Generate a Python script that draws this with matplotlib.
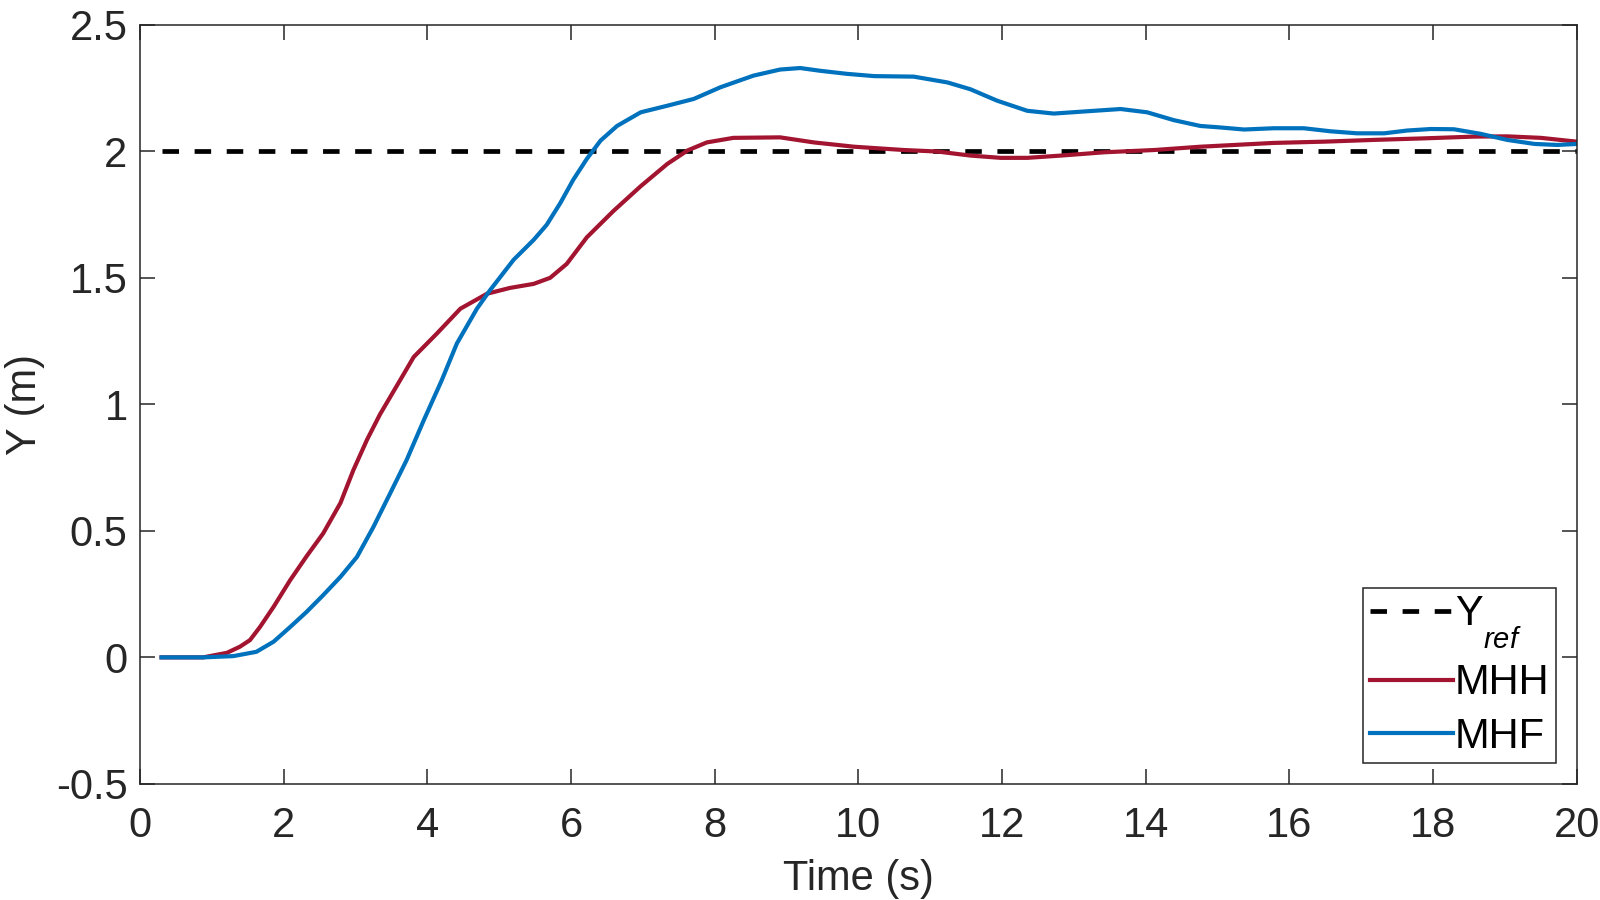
import matplotlib
matplotlib.use("Agg")
import matplotlib.pyplot as plt
import matplotlib._mathtext as mathtext_internal

plt.rcParams["font.family"] = ["Liberation Sans", "DejaVu Sans"]
plt.rcParams["mathtext.fontset"] = "custom"
plt.rcParams["mathtext.rm"] = "Liberation Sans"
plt.rcParams["mathtext.it"] = "Liberation Sans:italic"
# MATLAB drops the subscript lower than mathtext does
mathtext_internal.FontConstantsBase.sub1 = 1.0

# reference level
y_ref = 2.0
t_ref = [0.3, 20.0]

# MHH response
t_mhh = [0.3, 0.88, 1.21, 1.39, 1.53, 1.67, 1.86, 2.09, 2.32, 2.55, 2.79, 2.97,
         3.16, 3.34, 3.62, 3.81, 4.13, 4.46, 4.83, 5.15, 5.48, 5.71, 5.94, 6.22,
         6.59, 6.97, 7.34, 7.62, 7.89, 8.26, 8.91, 9.38, 9.94, 10.63, 11.10,
         11.56, 11.98, 12.35, 12.82, 13.42, 14.12, 14.76, 15.78, 16.48, 17.18,
         17.87, 18.57, 19.03, 19.50, 20.0]
y_mhh = [0.0, 0.0, 0.018, 0.042, 0.068, 0.12, 0.20, 0.305, 0.40, 0.49, 0.61, 0.74,
         0.86, 0.96, 1.095, 1.187, 1.279, 1.378, 1.437, 1.46, 1.476, 1.50, 1.555,
         1.66, 1.764, 1.862, 1.95, 2.003, 2.035, 2.053, 2.055, 2.035, 2.018, 2.005,
         1.999, 1.983, 1.974, 1.974, 1.983, 1.996, 2.005, 2.018, 2.033, 2.038,
         2.045, 2.051, 2.058, 2.059, 2.053, 2.038]

# MHF response
t_mhf = [0.3, 0.88, 1.30, 1.62, 1.86, 2.09, 2.32, 2.55, 2.79, 3.02, 3.25, 3.48,
         3.71, 3.95, 4.20, 4.41, 4.69, 4.87, 5.20, 5.48, 5.66, 5.85, 6.03, 6.22,
         6.41, 6.64, 6.97, 7.34, 7.71, 8.08, 8.54, 8.91, 9.19, 9.47, 9.84, 10.22,
         10.77, 11.24, 11.56, 11.93, 12.35, 12.72, 13.18, 13.65, 14.02, 14.39,
         14.76, 15.0, 15.37, 15.78, 16.2, 16.57, 16.94, 17.32, 17.64, 17.97,
         18.29, 18.66, 19.03, 19.41, 19.73, 20.0]
y_mhf = [0.0, 0.0, 0.005, 0.022, 0.062, 0.12, 0.18, 0.246, 0.318, 0.397, 0.516,
         0.647, 0.779, 0.937, 1.095, 1.24, 1.378, 1.45, 1.571, 1.65, 1.709, 1.795,
         1.887, 1.97, 2.042, 2.10, 2.154, 2.18, 2.207, 2.253, 2.299, 2.323, 2.329,
         2.318, 2.306, 2.297, 2.295, 2.272, 2.245, 2.20, 2.16, 2.149, 2.158,
         2.167, 2.154, 2.123, 2.10, 2.095, 2.086, 2.091, 2.091, 2.079, 2.071,
         2.071, 2.082, 2.088, 2.087, 2.069, 2.045, 2.029, 2.025, 2.029]

x_ticks = [0, 2, 4, 6, 8, 10, 12, 14, 16, 18, 20]
y_ticks = [-0.5, 0, 0.5, 1, 1.5, 2, 2.5]

fig = plt.figure(figsize=(16, 9), dpi=100)
ax = fig.add_axes([0.0875, 0.129, 0.898, 0.8435])

ax.plot(t_ref, [y_ref, y_ref], color="black", lw=3.4, dashes=(3.5, 3.3),
        label=r"Y$_{ref}$")
ax.plot(t_mhh, y_mhh, color="#A2142F", lw=3.0, label="MHH")
ax.plot(t_mhf, y_mhf, color="#0072BD", lw=3.0, label="MHF")

ax.set_xlim(0, 20)
ax.set_ylim(-0.5, 2.5)
ax.set_xticks(x_ticks)
ax.set_yticks(y_ticks)
ax.set_xticklabels([str(v) for v in x_ticks])
ax.set_yticklabels(["-0.5", "0", "0.5", "1", "1.5", "2", "2.5"])
ax.tick_params(direction="in", length=11, width=1.1, labelsize=30,
               colors="#262626", top=True, right=True)
ax.tick_params(axis="x", pad=16)
ax.tick_params(axis="y", pad=9)
for s in ax.spines.values():
    s.set_linewidth(1.1)
    s.set_color("#262626")

ax.set_xlabel("Time (s)", fontsize=30, color="#262626", labelpad=9)
ax.set_ylabel("Y (m)", fontsize=30, color="#262626", labelpad=8)

leg = ax.legend(loc="lower right", fontsize=30, handlelength=2.0,
                handletextpad=0.05, borderpad=0.15, labelspacing=0.32,
                fancybox=False, framealpha=1, borderaxespad=0.5)
leg.get_frame().set_edgecolor("#262626")
leg.get_frame().set_linewidth(1.1)

plt.savefig("out.png", dpi=100)
